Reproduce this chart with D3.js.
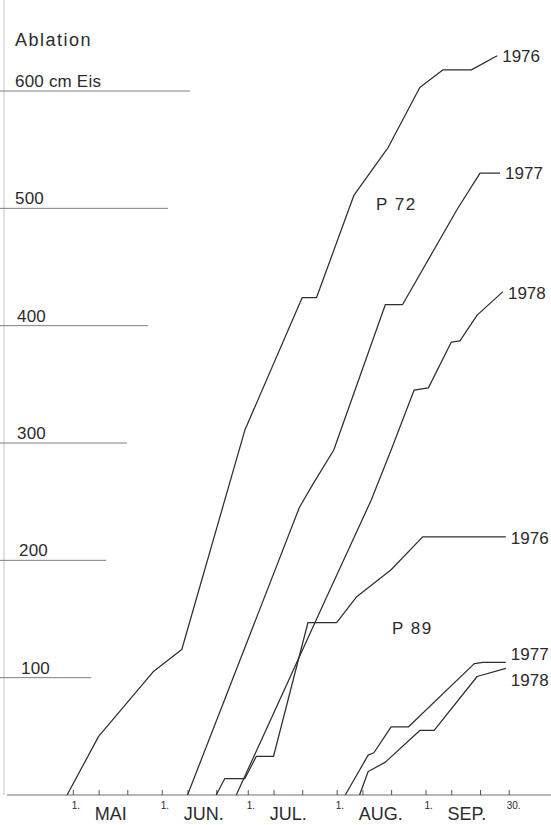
<!DOCTYPE html>
<html><head><meta charset="utf-8">
<script src="https://cdn.jsdelivr.net/npm/d3@7"></script>
<style>
body{margin:0;background:#fff}
svg{display:block}
text{font-family:"Liberation Sans",Arial,sans-serif;fill:#2b2b2b}
</style>
</head><body>
<svg id="c" width="551" height="825"></svg>
<script>
// ---------- data ----------
const yTickValues = [100, 200, 300, 400, 500, 600];
const yTickLabels = ["100", "200", "300", "400", "500", "600 cm Eis"];
const yAxisTitle = "Ablation";
const monthNames = ["MAI", "JUN.", "JUL.", "AUG.", "SEP."];
const monthStarts = ["05-01", "06-01", "07-01", "08-01", "09-01"];
const minorTickDays = [1, 10, 20];
const lastTickDate = "09-30";
const lastTickLabel = "30.";

const p72_1976_dates = ["04-29","05-10","05-29","06-08","06-30","07-20","07-25","08-07","08-19","08-30","09-07","09-17","09-26"];
const p72_1976_vals  = [0, 50, 105, 124, 311, 424, 424, 511, 552, 603, 618, 618, 630];

const p72_1977_dates = ["06-10","07-19","07-24","07-31","08-18","08-24","09-12","09-20","09-27"];
const p72_1977_vals  = [0, 245, 266, 294, 418, 418, 499, 530, 530];

const p72_1978_dates = ["06-27","07-28","08-13","08-20","08-28","09-02","09-10","09-13","09-19","09-28"];
const p72_1978_vals  = [0, 166, 251, 294, 345, 347, 386, 387, 409, 429];

const p89_1976_dates = ["06-20","06-23","06-30","07-04","07-10","07-22","08-01","08-08","08-20","08-31","09-29"];
const p89_1976_vals  = [0, 14, 14, 33, 33, 147, 147, 169, 192, 220, 220];

const p89_1977_dates = ["08-04","08-12","08-14","08-20","08-26","09-18","09-21","09-29"];
const p89_1977_vals  = [0, 34, 36, 58, 58, 112, 113, 113];

const p89_1978_dates = ["08-09","08-12","08-18","08-30","09-04","09-19","09-29"];
const p89_1978_vals  = [0, 20, 28, 55, 55, 101, 108];

const seriesNames = ["1976","1977","1978","1976","1977","1978"];
const stationLabels = ["P 72", "P 89"];

// ---------- layout / style ----------
const W = 551, H = 825;
const parse = s => d3.timeParse("%Y-%m-%d")("2001-" + s);
const x = d3.scaleTime().domain([parse("04-10"), parse("10-15")]).range([12.6, 551.7]);
const y = d3.scaleLinear().domain([0, 600]).range([795, 91]);

const svg = d3.select("#c");
svg.append("rect").attr("width", W).attr("height", H).attr("fill", "#fff");

// faint left vertical axis
svg.append("line").attr("x1", 4).attr("x2", 4).attr("y1", 0).attr("y2", y(0))
  .attr("stroke", "#c4c4c4").attr("stroke-width", 1);

// y gridlines (staircase lengths) + labels
const gridEnds = [91, 106, 127, 148, 168, 190];
const labelX = [21, 19, 17, 17, 15, 15];
const gy = svg.append("g");
yTickValues.forEach((v, i) => {
  gy.append("line").attr("x1", 0).attr("x2", gridEnds[i])
    .attr("y1", y(v)).attr("y2", y(v))
    .attr("stroke", "#7e7e7e").attr("stroke-width", 1);
  gy.append("text").attr("x", labelX[i]).attr("y", y(v) - 4)
    .attr("font-size", 17).attr("letter-spacing", 0.2).text(yTickLabels[i]);
});
svg.append("text").attr("x", 15).attr("y", 46).attr("font-size", 18)
  .attr("letter-spacing", 1.5).text(yAxisTitle);

// x axis baseline
svg.append("line").attr("x1", 7).attr("x2", W).attr("y1", y(0)).attr("y2", y(0))
  .attr("stroke", "#6e6e6e").attr("stroke-width", 1);

// ticks
const tickDates = [];
monthStarts.forEach(m => {
  const mm = m.slice(0, 2);
  minorTickDays.forEach(d => tickDates.push(parse(mm + "-" + String(d).padStart(2, "0"))));
});
tickDates.push(parse(lastTickDate));
const xAxis = d3.axisBottom(x).tickValues(tickDates).tickSizeInner(-5).tickSizeOuter(0).tickFormat("");
const ga = svg.append("g").attr("transform", `translate(0,${y(0)})`).call(xAxis);
ga.select(".domain").remove();
ga.selectAll(".tick line").attr("stroke", "#555").attr("stroke-width", 1);

// month labels
monthStarts.forEach((m, i) => {
  const xm = x(parse(m));
  svg.append("text").attr("x", xm - 1).attr("y", 809).attr("font-size", 10).text("1.");
  svg.append("text").attr("x", xm + 22).attr("y", 820).attr("font-size", 18).text(monthNames[i]);
});
svg.append("text").attr("x", x(parse(lastTickDate)) - 2).attr("y", 809)
  .attr("font-size", 10).text(lastTickLabel);

// series lines
const series = [
  [p72_1976_dates, p72_1976_vals, 6],
  [p72_1977_dates, p72_1977_vals, 6],
  [p72_1978_dates, p72_1978_vals, 7],
  [p89_1976_dates, p89_1976_vals, 7],
  [p89_1977_dates, p89_1977_vals, -2],
  [p89_1978_dates, p89_1978_vals, 18]
];
const line = d3.line().x(d => x(d.date)).y(d => y(d.v));
series.forEach(([dates, vals, dy], i) => {
  const pts = dates.map((d, j) => ({date: parse(d), v: vals[j]}));
  svg.append("path").datum(pts).attr("d", line)
    .attr("fill", "none").attr("stroke", "#2e2e2e").attr("stroke-width", 1.25)
    .attr("stroke-linejoin", "round");
  const last = pts[pts.length - 1];
  svg.append("text").attr("x", x(last.date) + 5).attr("y", y(last.v) + dy)
    .attr("font-size", 17).text(seriesNames[i]);
});

// station labels
svg.append("text").attr("x", 376).attr("y", 210).attr("font-size", 17)
  .attr("letter-spacing", 1.5).text(stationLabels[0]);
svg.append("text").attr("x", 392).attr("y", 634).attr("font-size", 17)
  .attr("letter-spacing", 1.5).text(stationLabels[1]);
</script>
</body></html>
